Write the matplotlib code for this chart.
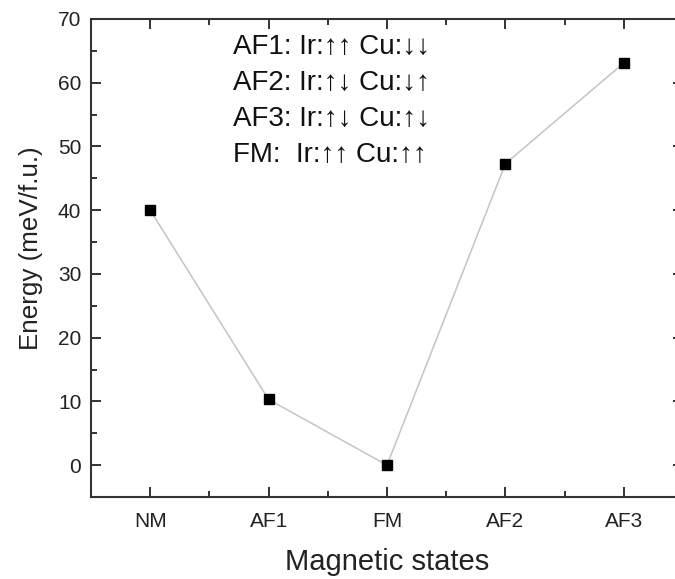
import numpy as np
import matplotlib
matplotlib.use('Agg')
import matplotlib.pyplot as plt
from matplotlib.ticker import MultipleLocator

plt.rcParams['font.family'] = ['Liberation Sans', 'DejaVu Sans']

states = ['NM', 'AF1', 'FM', 'AF2', 'AF3']
energy = [40.0, 10.3, 0.0, 47.3, 63.1]
notes = ['AF1: Ir:\u2191\u2191 Cu:\u2193\u2193',
         'AF2: Ir:\u2191\u2193 Cu:\u2193\u2191',
         'AF3: Ir:\u2191\u2193 Cu:\u2191\u2193',
         'FM:  Ir:\u2191\u2191 Cu:\u2191\u2191']

fig = plt.figure(figsize=(6.75, 5.79), dpi=100)
ax = fig.add_axes([91/675, 1-497/579, (683-91)/675, (497-19)/579])

x = np.arange(len(states))
ax.plot(x, energy, color='#c4c4c4', lw=1.1, zorder=1)
ax.plot(x, energy, 's', color='black', ms=6.5, zorder=2)

ax.set_xlim(-0.5, 4.5)
ax.set_ylim(-5, 70)
ax.set_xticks(x)
ax.set_xticklabels(states)
ax.xaxis.set_minor_locator(MultipleLocator(0.5))
ax.yaxis.set_major_locator(MultipleLocator(10))
ax.yaxis.set_minor_locator(MultipleLocator(5))
ax.tick_params(which='both', direction='in', top=True, right=True, width=1.3,
               labelsize=15, colors='#222222')
ax.tick_params(which='major', length=7)
ax.tick_params(axis='x', which='major', pad=11)
ax.tick_params(axis='y', which='major', pad=7)
ax.tick_params(which='minor', length=4)
for s in ax.spines.values():
    s.set_linewidth(1.5)
    s.set_color('#333333')

ax.set_xlabel('Magnetic states', fontsize=21, color='#222222', labelpad=12)
ax.set_ylabel('Energy (meV/f.u.)', fontsize=18.7, color='#222222',
              labelpad=11, y=0.52)

for i, t in enumerate(notes):
    ax.text(0.70, 65.6 - i * 36 / 6.37, t, fontsize=20, color='#111111',
            va='center', ha='left')

fig.savefig('out.png', dpi=100)
